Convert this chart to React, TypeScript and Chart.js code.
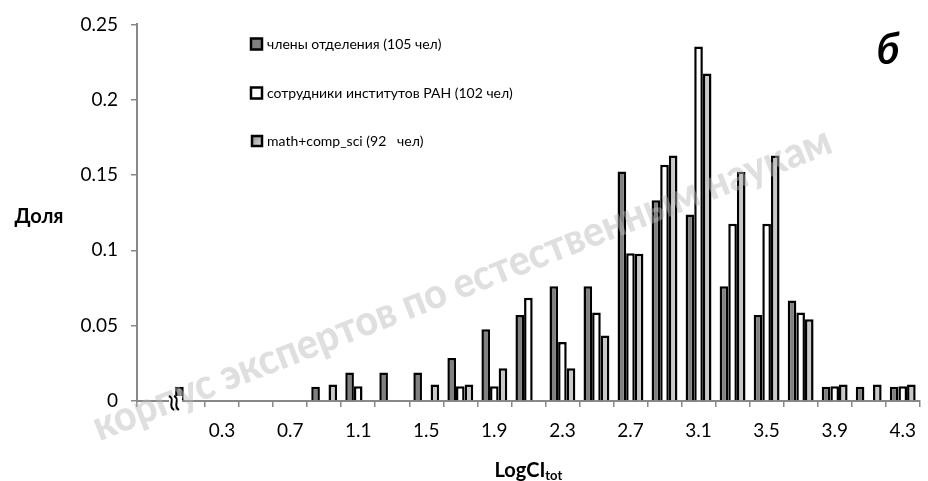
import React, { useEffect, useRef } from 'react';
import { Chart, registerables } from 'chart.js';

Chart.register(...registerables);

const FONT = "Lato, 'Noto Sans', 'Open Sans', sans-serif";

// categories (LogCI_tot bins, step 0.2); first bin is an unlabeled break bin
const categories = ['', '0.1', '0.3', '0.5', '0.7', '0.9', '1.1', '1.3', '1.5', '1.7', '1.9', '2.1', '2.3', '2.5', '2.7', '2.9', '3.1', '3.3', '3.5', '3.7', '3.9', '4.1', '4.3'];
const xTickLabels = ['0.3', '0.7', '1.1', '1.5', '1.9', '2.3', '2.7', '3.1', '3.5', '3.9', '4.3'];
const yTickLabels = ['0', '0.05', '0.1', '0.15', '0.2', '0.25'];

const seriesNames = ['члены отделения (105 чел)', 'сотрудники институтов РАН (102 чел)', 'math+comp_sci (92   чел)'];

const members = [0, 0.0095, 0, 0, 0, 0.0095, 0.019, 0.019, 0.019, 0.0286, 0.0476, 0.0571, 0.0762, 0.0762, 0.1524, 0.1333, 0.1238, 0.0762, 0.0571, 0.0667, 0.0095, 0.0095, 0.0095];
const institutes = [0, 0, 0, 0, 0, 0, 0.0098, 0, 0, 0.0098, 0.0098, 0.0686, 0.0392, 0.0588, 0.098, 0.1569, 0.2353, 0.1176, 0.1176, 0.0588, 0.0098, 0, 0.0098];
const mathComp = [0, 0, 0, 0, 0, 0.0109, 0, 0, 0.0109, 0.0109, 0.0217, 0, 0.0217, 0.0435, 0.0978, 0.163, 0.2174, 0.1522, 0.163, 0.0543, 0.0109, 0.0109, 0.0109];

const yTitle = 'Доля';
const xTitleMain = 'LogCI';
const xTitleSub = 'tot';
const panelLabel = 'б';
const watermark = 'корпус экспертов по естественным наукам';

const fills = ['#808080', '#ffffff', '#c8c8c8'];

const overlayPlugin = {
  id: 'overlay',
  afterDraw(chart: any) {
    const ctx: CanvasRenderingContext2D = chart.ctx;
    const ca = chart.chartArea;
    ctx.save();

    // watermark
    ctx.save();
    ctx.translate(462, 284);
    ctx.rotate(-0.375);
    ctx.font = `900 42px ${FONT}`;
    const ww = ctx.measureText(watermark).width;
    ctx.scale(790 / ww, 1);
    ctx.fillStyle = 'rgba(185,185,185,0.45)';
    ctx.textAlign = 'center';
    ctx.textBaseline = 'middle';
    ctx.fillText(watermark, 0, 0);
    ctx.restore();

    // y title
    ctx.fillStyle = '#000';
    ctx.font = `bold 20px ${FONT}`;
    ctx.textAlign = 'center';
    ctx.textBaseline = 'middle';
    ctx.fillText(yTitle, 39, 217);

    // x title with subscript
    ctx.textBaseline = 'alphabetic';
    ctx.textAlign = 'left';
    ctx.font = `bold 20px ${FONT}`;
    const w1 = ctx.measureText(xTitleMain).width;
    ctx.font = `bold 13px ${FONT}`;
    const w2 = ctx.measureText(xTitleSub).width;
    const cx = (ca.left + ca.right) / 2;
    const x0 = cx - (w1 + w2) / 2;
    ctx.font = `bold 20px ${FONT}`;
    ctx.fillText(xTitleMain, x0, 477);
    ctx.font = `bold 13px ${FONT}`;
    ctx.fillText(xTitleSub, x0 + w1, 480);

    // legend
    const rows = [44, 93, 141];
    for (let i = 0; i < 3; i++) {
      const y = rows[i];
      const mx = i === 2 ? 252 : 251;
      const s = i === 2 ? 10 : 11;
      if (i === 2) {
        const g = ctx.createLinearGradient(mx, y - s / 2, mx + s, y + s / 2);
        g.addColorStop(0, '#8a8a8a');
        g.addColorStop(1, '#e0e0e0');
        ctx.fillStyle = g;
      } else {
        ctx.fillStyle = fills[i];
      }
      ctx.fillRect(mx, y - s / 2, s, s);
      ctx.lineWidth = 2.5;
      ctx.strokeStyle = '#000';
      ctx.strokeRect(mx, y - s / 2, s, s);
      ctx.fillStyle = '#000';
      ctx.font = `14px ${FONT}`;
      ctx.textBaseline = 'middle';
      ctx.textAlign = 'left';
      ctx.fillText(seriesNames[i], 267, y);
    }

    // panel label
    ctx.font = `italic bold 42px ${FONT}`;
    ctx.textAlign = 'center';
    ctx.textBaseline = 'middle';
    ctx.fillText(panelLabel, 888, 50);

    // axis break symbol
    ctx.fillStyle = '#fff';
    ctx.fillRect(169, 396, 13, 12);
    ctx.strokeStyle = '#000';
    ctx.lineWidth = 2;
    for (const dx of [0, 5]) {
      ctx.beginPath();
      ctx.moveTo(169 + dx, 396);
      ctx.bezierCurveTo(176 + dx, 399, 167 + dx, 406, 174 + dx, 410);
      ctx.stroke();
    }
    ctx.restore();
  },
};

export default function App() {
  const ref = useRef<HTMLCanvasElement | null>(null);
  useEffect(() => {
    if (!ref.current) return;
    const data = [members, institutes, mathComp];
    const chart = new Chart(ref.current, {
      type: 'bar',
      data: {
        labels: categories,
        datasets: data.map((d, i) => ({
          label: seriesNames[i],
          data: d,
          backgroundColor: fills[i],
          borderColor: '#000',
          borderWidth: 2.5,
          categoryPercentage: 0.76,
          barPercentage: 1,
        })),
      },
      options: {
        responsive: false,
        animation: false,
        devicePixelRatio: 1,
        layout: { padding: { top: 17, left: 0, right: 0, bottom: 0 } },
        plugins: { legend: { display: false }, tooltip: { enabled: false }, title: { display: false } },
        scales: {
          x: {
            type: 'category',
            offset: true,
            grid: { display: true, drawOnChartArea: false, drawTicks: true, tickLength: 6, color: '#888', lineWidth: 1.5, offset: true },
            border: { display: true, color: '#888', width: 2 },
            ticks: {
              autoSkip: false,
              maxRotation: 0,
              minRotation: 0,
              padding: 12,
              color: '#000',
              font: { family: FONT, size: 19 },
              callback: (_v: any, idx: number) => (xTickLabels.includes(categories[idx]) ? categories[idx] : ''),
            },
            afterFit: (s: any) => { s.height = 80; },
          },
          y: {
            min: 0,
            max: 0.25,
            grid: { display: true, drawOnChartArea: false, drawTicks: true, tickLength: 6, color: '#888', lineWidth: 1.5 },
            border: { display: true, color: '#888', width: 2 },
            ticks: {
              stepSize: 0.05,
              padding: 13,
              color: '#000',
              font: { family: FONT, size: 19 },
              callback: (v: any) => yTickLabels[Math.round(Number(v) / 0.05)] ?? '',
            },
            afterFit: (s: any) => { s.width = 137; },
          },
        },
      },
      plugins: [overlayPlugin],
    } as any);
    return () => chart.destroy();
  }, []);
  return (
    <div style={{ position: 'fixed', left: 0, top: 0, width: 928, height: 481, background: '#fff' }}>
      <canvas ref={ref} width={928} height={481} style={{ display: 'block' }} />
    </div>
  );
}
